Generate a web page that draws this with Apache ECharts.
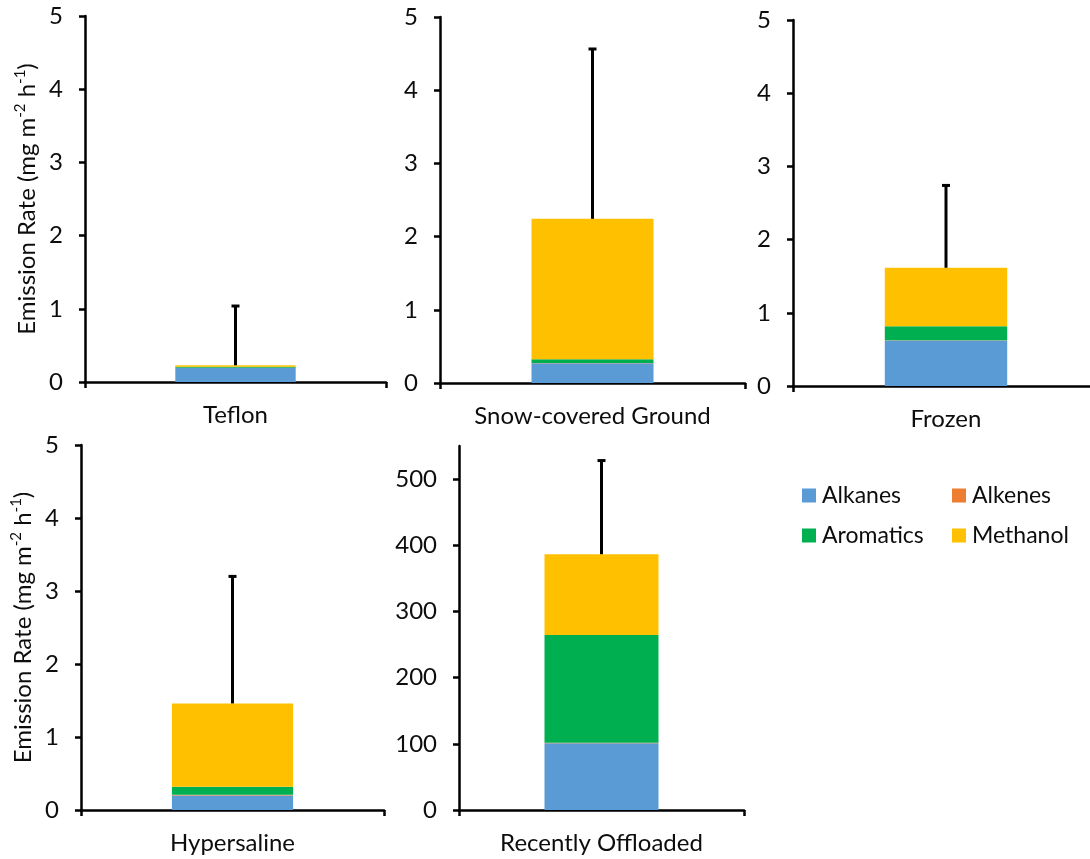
<!DOCTYPE html>
<html>
<head>
<meta charset="utf-8">
<script src="https://cdn.jsdelivr.net/npm/echarts@6/dist/echarts.min.js"></script>
<style>
  html, body { margin: 0; padding: 0; background: #fff; }
  #chart { width: 1090px; height: 859px; }
</style>
</head>
<body>
<div id="chart"></div>
<script>
// Emission rates by surface type (mg m-2 h-1), stacked by compound class
const sites = ['Teflon', 'Snow-covered Ground', 'Frozen', 'Hypersaline', 'Recently Offloaded'];
const alkanes   = [0.19, 0.27, 0.62, 0.20, 101];
const alkenes   = [0.003, 0.003, 0.005, 0.01, 0.5];
const aromatics = [0.015, 0.05, 0.19, 0.11, 163];
const methanol  = [0.02, 1.92, 0.80, 1.14, 122];
const stdDev    = [0.81, 2.32, 1.125, 1.74, 141.5];
const yMax      = [5, 5, 5, 5, 550];
const yTicksSmall = [0, 1, 2, 3, 4, 5];
const yTicksLarge = [0, 100, 200, 300, 400, 500];

const classes = [
  { name: 'Alkanes',   values: alkanes,   color: '#5B9BD5' },
  { name: 'Alkenes',   values: alkenes,   color: '#ED7D31' },
  { name: 'Aromatics', values: aromatics, color: '#00B050' },
  { name: 'Methanol',  values: methanol,  color: '#FFC000' }
];

// panel placement in pixels
const panels = [
  { left: 85,  top: 16,  width: 301, height: 366 },
  { left: 440, top: 17,  width: 305, height: 366 },
  { left: 793, top: 20,  width: 306, height: 366 },
  { left: 81,  top: 445, width: 303, height: 365 },
  { left: 459, top: 446, width: 285, height: 364 }
];

const FONT = 'Lato';
const TXT = '#0d0d0d';
const FS = 24;

const grids = [], xAxes = [], yAxes = [], series = [];

sites.forEach((site, i) => {
  const p = panels[i];
  grids.push({ left: p.left, top: p.top, width: p.width, height: p.height, outerBoundsMode: 'none', containLabel: false });
  xAxes.push({
    type: 'category', gridIndex: i, data: [site],
    axisLine: { lineStyle: { color: '#000', width: 2.5 } },
    axisTick: { show: true, length: 6, lineStyle: { color: '#000', width: 2.5 } },
    axisLabel: { color: TXT, fontFamily: FONT, fontSize: FS, margin: 21 }
  });
  const ticks = yMax[i] > 10 ? yTicksLarge : yTicksSmall;
  const y = {
    type: 'value', gridIndex: i, min: 0, max: yMax[i],
    interval: ticks[1] - ticks[0],
    splitLine: { show: false },
    axisLine: { show: true, lineStyle: { color: '#000', width: 2.5 } },
    axisTick: { show: true, length: 6, customValues: ticks, lineStyle: { color: '#000', width: 2.5 } },
    axisLabel: { color: TXT, fontFamily: FONT, fontSize: FS, margin: 22, customValues: ticks }
  };
  if (i === 0 || i === 3) {
    y.name = 'Emission Rate (mg m{sup|-2} h{sup|-1})';
    y.nameLocation = 'middle';
    y.nameRotate = 90;
    y.nameGap = 44;
    y.nameTextStyle = {
      color: TXT, fontFamily: FONT, fontSize: FS, lineHeight: 28,
      rich: { sup: { fontFamily: FONT, fontSize: 15, lineHeight: 28, verticalAlign: 'top', color: TXT } }
    };
  }
  yAxes.push(y);

  classes.forEach(c => {
    series.push({
      type: 'bar', name: c.name, xAxisIndex: i, yAxisIndex: i, stack: 'site' + i,
      barWidth: '40%', itemStyle: { color: c.color },
      data: [c.values[i]]
    });
  });

  const total = classes.reduce((s, c) => s + c.values[i], 0);
  series.push({
    type: 'custom', name: 'sd' + i, xAxisIndex: i, yAxisIndex: i, z: 5,
    data: [[site, total, total + stdDev[i]]],
    encode: { x: 0, y: [1, 2] },
    renderItem: (params, api) => {
      const base = api.coord([api.value(0), api.value(1)]);
      const top = api.coord([api.value(0), api.value(2)]);
      const st = { stroke: '#000', lineWidth: 3 };
      return {
        type: 'group',
        children: [
          { type: 'line', shape: { x1: base[0], y1: base[1], x2: top[0], y2: top[1] }, style: st },
          { type: 'line', shape: { x1: top[0] - 4, y1: top[1], x2: top[0] + 4, y2: top[1] }, style: st }
        ]
      };
    }
  });
});

const legendText = { color: TXT, fontFamily: FONT, fontSize: 23, padding: [0, 0, 0, 1] };
const option = {
  animation: false,
  backgroundColor: '#fff',
  grid: grids,
  xAxis: xAxes,
  yAxis: yAxes,
  legend: [
    { orient: 'vertical', left: 797, top: 479, itemWidth: 14, itemHeight: 14, itemGap: 17,
      icon: 'rect', textStyle: legendText, data: ['Alkanes', 'Aromatics'], selectedMode: false },
    { orient: 'vertical', left: 947, top: 479, itemWidth: 14, itemHeight: 14, itemGap: 17,
      icon: 'rect', textStyle: legendText, data: ['Alkenes', 'Methanol'], selectedMode: false }
  ],
  series: series
};

const chart = echarts.init(document.getElementById('chart'), null, { renderer: 'canvas' });
chart.setOption(option);
</script>
</body>
</html>
